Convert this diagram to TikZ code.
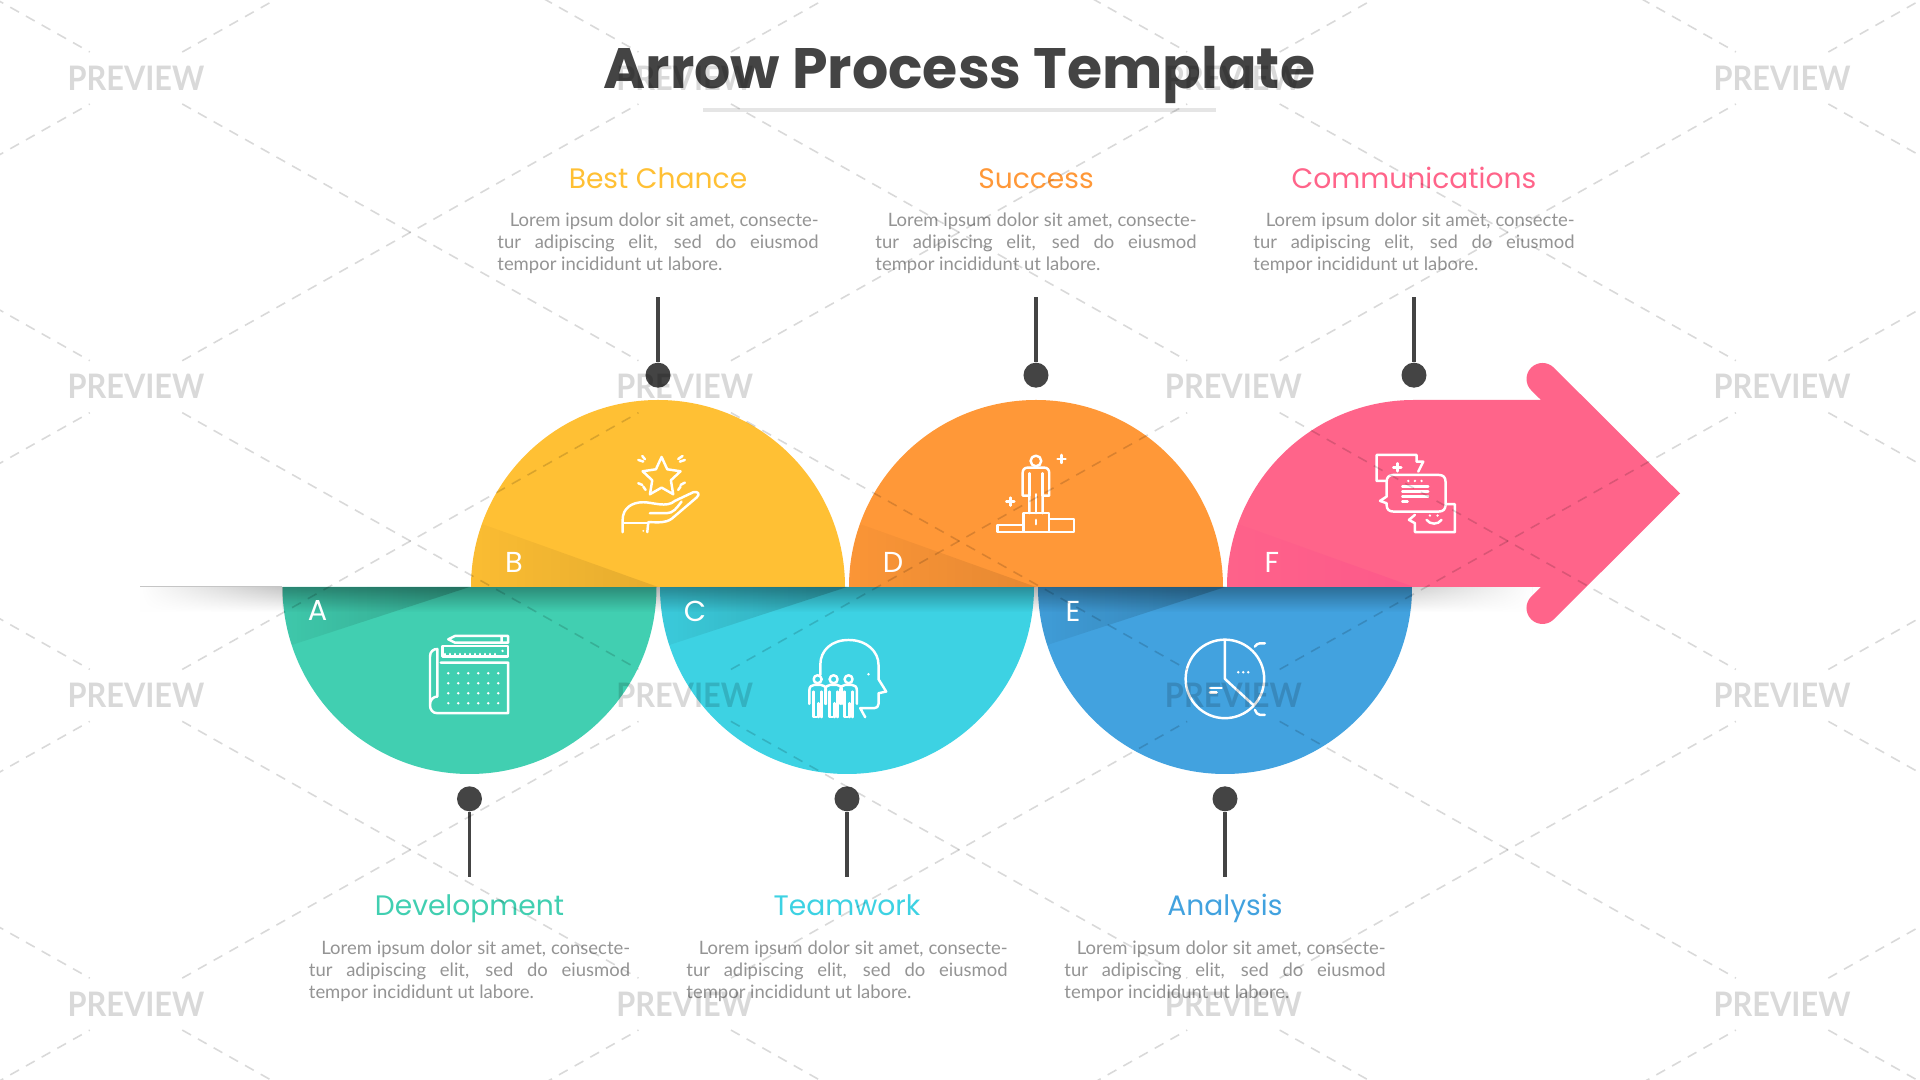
\documentclass[tikz,border=0pt]{standalone}
\usepackage{fontspec}
\usepackage{xcolor}
\usepackage{tikz}
\usetikzlibrary{calc,fadings,positioning}
\setmainfont{Lato}
\newfontfamily\headfont{Poppins}
\newfontfamily\markfont[FakeStretch=0.91]{Lato}
\definecolor{colA}{HTML}{41CFB1}
\definecolor{colB}{HTML}{FFC034}
\definecolor{colC}{HTML}{3DD2E3}
\definecolor{colD}{HTML}{FF9838}
\definecolor{colE}{HTML}{42A2DF}
\definecolor{colF}{HTML}{FF648A}
\definecolor{inkdark}{HTML}{444444}
\definecolor{inkgray}{HTML}{949494}
\tikzfading[name=fadedown,top color=transparent!0,bottom color=transparent!100]
\tikzfading[name=faderight,left color=transparent!85,right color=transparent!0]
\tikzfading[name=hideleft,left color=transparent!0,right color=transparent!100]
\tikzfading[name=hideright,left color=transparent!100,right color=transparent!0]
\newcommand{\loremtext}{\tolerance=9999\hspace*{0.125cm}Lorem ipsum dolor sit amet, consecte-\linebreak tur adipiscing elit, sed do eiusmod\linebreak tempor incididunt ut labore.}
\begin{document}
\begin{tikzpicture}[
  x=0.01cm,y=-0.01cm,
  stem/.style={draw=inkdark,line width=0.95pt},
  dot/.style={circle,fill=inkdark,inner sep=0pt,minimum size=0.25cm},
  heading/.style={font=\headfont\fontsize{8}{10}\selectfont,inner sep=0pt,text height=0.22cm,text depth=0.06cm},
  para/.style={font=\fontsize{5.25}{6.28}\selectfont,text=inkgray,text width=3.21cm,align=justify,inner sep=0pt},
  letter/.style={font=\headfont\fontsize{8.2}{10}\selectfont,text=white,inner sep=0pt},
  wedge/.style={fill=#1,opacity=0.2,path fading=faderight},
  wedgeup/.style={fill=#1,opacity=0.1,path fading=faderight},
  icon/.style={draw=white,line width=0.7pt,line cap=round,line join=round},
  speck/.style={fill=white},
  iconbox/.style={x=0.003333cm,y=-0.003333cm},
  markbox/.style={inner sep=0pt,minimum width=0.91cm,minimum height=0.54cm},
  marktext/.style={font=\markfont\fontsize{9.6}{11}\bfseries\selectfont,text=black,text opacity=0.15,inner sep=0pt},
  markline/.style={draw=black,draw opacity=0.15,line width=0.45pt,dash pattern=on 0.1cm off 0.08cm}
]
\fill[white] (0,0) rectangle (1920,1080);
\useasboundingbox (0,0) rectangle (1920,1080);

\coordinate (cA) at (469.5,587);
\coordinate (cB) at (658,587);
\coordinate (cC) at (847,587);
\coordinate (cD) at (1036,587);
\coordinate (cE) at (1225,587);
\coordinate (cF) at (1414,587);

\node[font=\headfont\bfseries\fontsize{16.2}{18}\selectfont,text=inkdark,inner sep=0pt,anchor=base] (title) at (959.5,89) {Arrow Process Template};
\node[fill=black!10,inner sep=0pt,minimum width=5.13cm,minimum height=0.04cm,below=0.02cm of title] (titlerule) {};

\foreach \n in {A,C,E}{
  \fill[col\n] (c\n) ++(-187,0) arc[start angle=180,end angle=0,radius=187] -- cycle;
}
\foreach \n in {B,D}{
  \fill[col\n] (c\n) ++(-187,0) arc[start angle=180,end angle=360,radius=187] -- cycle;
}
\shade[top color=black!22,bottom color=white] (140,587) rectangle (282,612);
\fill[white,path fading=hideleft] (140,587) rectangle (282,612);
\shade[top color=black!18,bottom color=white] (1412,587) rectangle (1532,612);
\fill[white,path fading=hideright] (1412,587) rectangle (1532,612);
\fill[colF] (cF) ++(-187,0) arc[start angle=180,end angle=270,radius=187] -- (1541,400) -- (1531.2,390.3) arc[start angle=135,end angle=315,radius=16] -- (1680,493.5) -- (1553.8,619.3) arc[start angle=45,end angle=225,radius=16] -- (1541,587) -- cycle;

\foreach \n in {A,C,E}{
  \begin{scope}
    \clip (c\n) ++(-187,0) arc[start angle=180,end angle=0,radius=187] -- cycle;
    \fill[wedge=black] (c\n) -- ++(-190,0) -- ++(0,62) -- cycle;
  \end{scope}
}
\foreach \n/\shadecol in {B/black,D/black,F/magenta}{
  \begin{scope}
    \clip (c\n) ++(-187,0) arc[start angle=180,end angle=360,radius=187] -- cycle;
    \fill[wedgeup=\shadecol] (c\n) -- ++(-190,0) -- ++(0,-68) -- cycle;
  \end{scope}
}
\fill[black,opacity=0.32,path fading=fadedown] (282,587) rectangle (1412,612);

\node[letter] (letterA) at ($(cA)+(-152,24)$) {A};
\node[letter] (letterB) at ($(cB)+(-144,-25)$) {B};
\node[letter] (letterC) at ($(cC)+(-152,24)$) {C};
\node[letter] (letterD) at ($(cD)+(-143,-25)$) {D};
\node[letter] (letterE) at ($(cE)+(-152,24)$) {E};
\node[letter] (letterF) at ($(cF)+(-142,-25)$) {F};

\node[dot,below=1.985cm of cA] (dotA) {};
\node[dot,above=1.985cm of cB] (dotB) {};
\node[dot,below=1.985cm of cC] (dotC) {};
\node[dot,above=1.985cm of cD] (dotD) {};
\node[dot,below=1.985cm of cE] (dotE) {};
\node[dot,above=1.985cm of cF] (dotF) {};
\coordinate[below=0.785cm of dotA.center] (endA);
\coordinate[above=0.78cm of dotB.center] (endB);
\coordinate[below=0.785cm of dotC.center] (endC);
\coordinate[above=0.78cm of dotD.center] (endD);
\coordinate[below=0.785cm of dotE.center] (endE);
\coordinate[above=0.78cm of dotF.center] (endF);
\draw[stem] (dotA) -- (endA);
\draw[stem] (dotB) -- (endB);
\draw[stem] (dotC) -- (endC);
\draw[stem] (dotD) -- (endD);
\draw[stem] (dotE) -- (endE);
\draw[stem] (dotF) -- (endF);

\node[heading,text=colA,below=0.15cm of endA] (headA) {Development};
\node[heading,text=colC,below=0.15cm of endC] (headC) {Teamwork};
\node[heading,text=colE,below=0.15cm of endE] (headE) {Analysis};
\node[para,below=0.18cm of headA] (paraA) {\loremtext};
\node[para,below=0.18cm of headC] (paraC) {\loremtext};
\node[para,below=0.18cm of headE] (paraE) {\loremtext};
\node[para,above=0.23cm of endB] (paraB) {\loremtext};
\node[para,above=0.23cm of endD] (paraD) {\loremtext};
\node[para,above=0.23cm of endF] (paraF) {\loremtext};
\node[heading,text=colB,above=0.17cm of paraB] (headB) {Best Chance};
\node[heading,text=colD,above=0.17cm of paraD] (headD) {Success};
\node[heading,text=colF,above=0.17cm of paraF] (headF) {Communications};

\begin{scope}[shift={(420,625)},iconbox]
  \draw[icon] (85,43) -- (105,33) -- (265,33) -- (265,53) -- (105,53) -- cycle (245,33) -- (245,53);
  \draw[icon] (67,63) rectangle (265,95);
  \foreach \tick in {75,90,...,235}{\draw[icon] (\tick,95) -- (\tick,87);}
  \fill[speck] (248,78) circle[radius=4];
  \draw[icon] (62,113) -- (265,113) -- (265,265) -- (52,265) .. controls (38,265) and (30,255) .. (30,240) -- (30,95) .. controls (30,80) and (40,72) .. (52,72) -- (52,215) .. controls (40,215) and (30,225) .. (30,240);
  \foreach \px in {85,115,145,175,205,235}{
    \foreach \py in {145,175,205,235}{\fill[speck] (\px,\py) circle[radius=4];}
  }
\end{scope}

\begin{scope}[shift={(610,445)},iconbox]
  \draw[icon] (155,36) -- (172,73) -- (212,79) -- (183,106) -- (190,148) -- (155,128) -- (120,148) -- (127,106) -- (98,79) -- (138,73) -- cycle;
  \draw[icon] (85,45) -- (100,50) (97,33) -- (105,43) (205,42) -- (218,33) (210,50) -- (225,45) (85,115) -- (97,120) (100,125) -- (107,135) (212,120) -- (225,113) (205,135) -- (212,125);
  \draw[icon] (38,262) -- (38,225) .. controls (38,190) and (65,172) .. (100,172) .. controls (130,172) and (170,190) .. (195,168) -- (250,142) .. controls (265,138) and (272,148) .. (260,158) -- (185,222) .. controls (165,235) and (150,232) .. (115,232) -- (112,262);
  \draw[icon] (120,205) -- (170,205) .. controls (190,205) and (200,190) .. (215,170);
  \draw[icon] (40,235) -- (115,235);
  \fill[speck] (100,258) circle[radius=3];
\end{scope}

\begin{scope}[shift={(797,630)},iconbox]
  \draw[icon] (70,135) -- (70,105) .. controls (70,60) and (105,30) .. (155,30) .. controls (210,30) and (245,65) .. (245,105) -- (245,148) -- (268,185) -- (245,190) -- (245,222) .. controls (245,230) and (240,235) .. (232,235) -- (190,235) -- (205,262);
  \fill[speck] (215,133) circle[radius=4];
  \foreach \px in {62,110,155}{
    \draw[icon] (\px,148) circle[radius=12];
    \draw[icon] (\px-25,222) -- (\px-25,182) .. controls (\px-25,170) and (\px-18,165) .. (\px-10,165) -- (\px+10,165) .. controls (\px+18,165) and (\px+25,170) .. (\px+25,182) -- (\px+25,222);
    \draw[icon] (\px-12,185) -- (\px-12,262) -- (\px-3,262) (\px+12,185) -- (\px+12,262) (\px+3,220) -- (\px+3,262);
  }
\end{scope}

\begin{scope}[shift={(986,445)},iconbox]
  \draw[icon] (150,48) circle[radius=16];
  \draw[icon] (130,205) -- (130,152) -- (110,152) -- (110,85) .. controls (110,75) and (115,68) .. (125,68) -- (175,68) .. controls (185,68) and (190,75) .. (190,85) -- (190,152) -- (170,152) -- (170,205);
  \draw[icon] (130,85) -- (130,152) (170,85) -- (170,152) (150,148) -- (150,205);
  \draw[icon] (112,262) rectangle (190,205);
  \draw[icon] (112,240) -- (35,240) -- (35,262) -- (112,262);
  \draw[icon] (190,222) -- (265,222) -- (265,262) -- (190,262);
  \draw[icon] (150,225) -- (150,238);
  \draw[icon] (227,30) -- (227,54) (215,42) -- (239,42);
  \draw[icon] (73,158) -- (73,182) (61,170) -- (85,170);
\end{scope}

\begin{scope}[shift={(1175,630)},iconbox]
  \draw[icon] (150,147) circle[radius=118];
  \draw[icon] (150,30) -- (150,147) -- (235,225);
  \draw[icon] (270,40) -- (255,40) .. controls (248,40) and (243,45) .. (240,50);
  \draw[icon] (270,255) -- (255,255) .. controls (248,255) and (243,248) .. (240,240);
  \fill[speck] (190,127) circle[radius=4] (205,127) circle[radius=4] (220,127) circle[radius=4];
  \draw[icon] (105,175) -- (140,175) (105,188) -- (125,188);
\end{scope}

\begin{scope}[shift={(1365,445)},iconbox]
  \draw[icon] (62,108) -- (35,108) -- (35,30) -- (155,30) -- (155,50) -- (175,50) -- (160,80);
  \draw[icon] (97,55) -- (97,79) (85,67) -- (109,67);
  \draw[icon] (85,90) -- (222,90) .. controls (235,90) and (242,97) .. (242,110) -- (242,180) .. controls (242,193) and (235,200) .. (222,200) -- (85,200) .. controls (72,200) and (65,193) .. (65,180) -- (65,175) -- (45,168) -- (65,155) -- (65,110) .. controls (65,97) and (72,90) .. (85,90) -- cycle;
  \foreach \px in {130,150,170}{\fill[speck] (\px,108) circle[radius=4];}
  \draw[icon] (112,125) -- (190,125) (112,140) -- (190,140) (112,155) -- (190,155) (112,170) -- (128,170);
  \draw[icon] (245,178) -- (270,178) -- (270,262) -- (150,262) -- (150,235) -- (132,225) -- (150,210);
  \draw[icon] (185,225) .. controls (195,240) and (220,240) .. (230,225);
  \fill[speck] (195,212) circle[radius=4] (218,212) circle[radius=4];
\end{scope}

\begin{scope}
  \clip (0,0) rectangle (1920,1080);
  \foreach \i in {0,...,5}{
    \foreach \j in {0,...,5}{
      \node[markbox] (m\i\j) at ({136+548.7*(\i-1)},{78+308.7*(\j-1)}) {};
    }
  }
  \foreach \i in {1,...,4}{
    \foreach \j in {1,...,4}{
      \node[marktext] (t\i\j) at (m\i\j) {PREVIEW};
    }
  }
  \foreach \i/\k in {0/1,1/2,2/3,3/4,4/5}{
    \foreach \j/\l in {0/1,1/2,2/3,3/4,4/5}{
      \draw[markline] (m\i\j) -- (m\k\l);
      \draw[markline] (m\i\l) -- (m\k\j);
    }
  }
\end{scope}
\end{tikzpicture}
\end{document}
